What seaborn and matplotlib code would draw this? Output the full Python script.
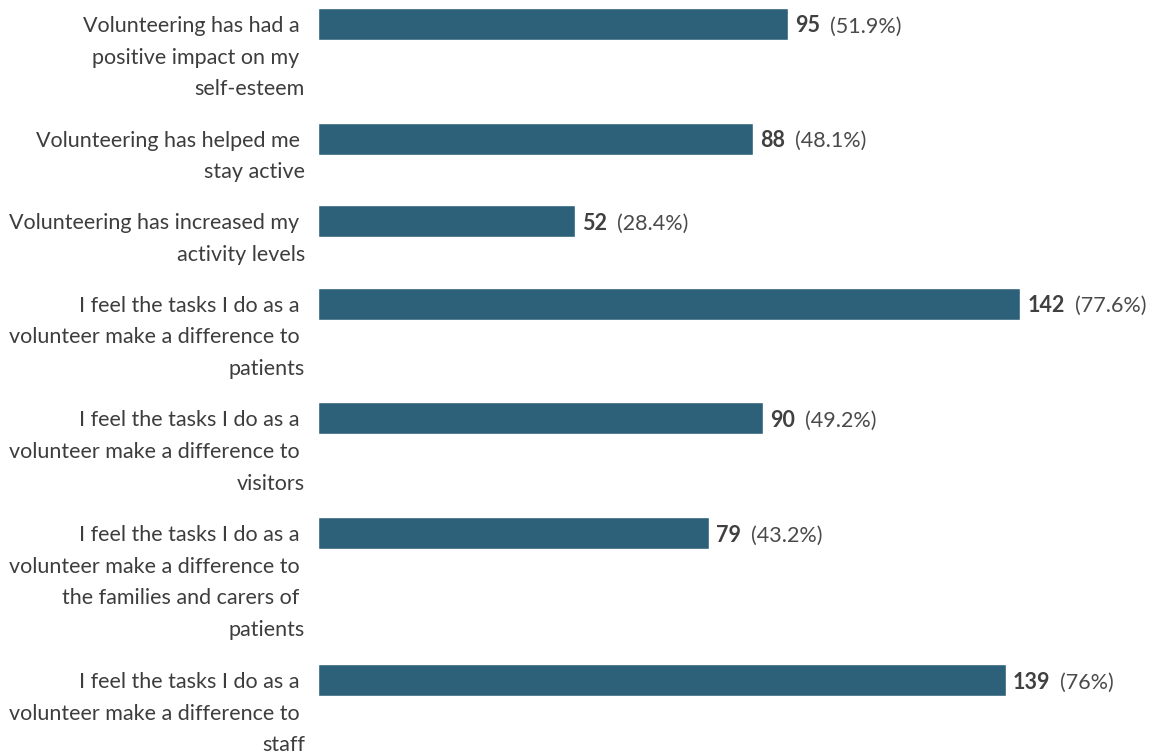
import numpy as np
import pandas as pd
import matplotlib
matplotlib.use("Agg")
import matplotlib.pyplot as plt
import seaborn as sns

# Survey statements (line breaks as they are set in the report)
statements = [
    "Volunteering has had a \npositive impact on my \nself-esteem",
    "Volunteering has helped me \nstay active",
    "Volunteering has increased my \nactivity levels",
    "I feel the tasks I do as a \nvolunteer make a difference to \npatients",
    "I feel the tasks I do as a \nvolunteer make a difference to \nvisitors",
    "I feel the tasks I do as a \nvolunteer make a difference to \nthe families and carers of \npatients",
    "I feel the tasks I do as a \nvolunteer make a difference to \nstaff",
]
counts = [95, 88, 52, 142, 90, 79, 139]
percents = [51.9, 48.1, 28.4, 77.6, 49.2, 43.2, 76]

BAR = "#2d6079"
TEXT = "#3d3d3d"
FS = 15.5

sns.set_theme(style="white")
plt.rcParams["font.family"] = ["Lato", "DejaVu Sans"]

W, H = 1154, 756
fig = plt.figure(figsize=(W / 100, H / 100), dpi=100)
left = 318 / W
ax = fig.add_axes([left, 0, 1 - left, 1])

# One y unit = one line of label text; each row is sized by its label's lines
label_lines = [s.split("\n") for s in statements]
line_counts = [len(ls) for ls in label_lines]
row_per_line, row_gap = 1.02, 0.57
pos = np.concatenate([[0.0], np.cumsum([n * row_per_line + row_gap
                                        for n in line_counts[:-1]])])
df = pd.DataFrame({"count": counts, "pos": pos})

line_px = 31.6
bar_h = 32 / line_px
min_step = np.min(np.diff(pos))
sns.barplot(data=df, x="count", y="pos", orient="y", native_scale=True,
            width=bar_h / min_step, color=BAR, saturation=1, errorbar=None, ax=ax)

units_tall = H / line_px
top = pos[0] - 24 / line_px
ax.set_ylim(top + units_tall, top)
ax.set_xlim(0, (W - 318) / 4.947)
ax.set_axis_off()

# Labels: right-aligned, first line level with the bar, one y unit per line
for lines, y in zip(label_lines, pos):
    for k, line in enumerate(lines):
        ax.annotate(line, xy=(0, y + k), xycoords="data", xytext=(-13, 0),
                    textcoords="offset pixels", ha="right", va="center_baseline",
                    fontsize=FS, color=TEXT)

# Value labels: bold count followed by the share of respondents
for c, p, y in zip(counts, percents, pos):
    t = ax.annotate(f"{c}", xy=(c, y), xycoords="data", xytext=(7, 0),
                    textcoords="offset pixels", ha="left", va="center_baseline",
                    fontsize=FS, fontweight="bold", color="#404040")
    ax.annotate(f"({p:g}%)", xy=(1, 0), xycoords=t, xytext=(10, 0),
                textcoords="offset pixels", ha="left", va="bottom",
                fontsize=FS, color="#4a4a4a")

fig.savefig("out.png", dpi=100, facecolor="white")
